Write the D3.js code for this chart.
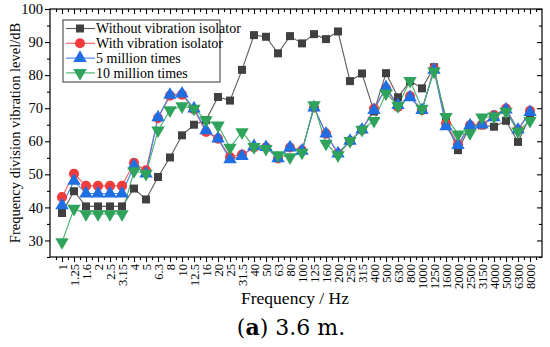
<!DOCTYPE html>
<html>
<head>
<meta charset="utf-8">
<script src="https://cdn.jsdelivr.net/npm/d3@7"></script>
<style>
  body { margin: 0; background: #fff; }
  svg { display: block; }
  svg text { font-family: 'Liberation Serif', 'Times New Roman', serif; fill: #000; }
</style>
</head>
<body>
<div id="chart"></div>
<script>
const freqs = ['1', '1.25', '1.6', '2', '2.5', '3.15', '4', '5', '6.3', '8', '10', '12.5', '16', '20', '25',
  '31.5', '40', '50', '63', '80', '100', '125', '160', '200', '250', '315', '400', '500', '630', '800',
  '1000', '1250', '1600', '2000', '2500', '3150', '4000', '5000', '6300', '8000'];

const withoutIsolator = [38.3, 44.9, 40.3, 40.3, 40.3, 40.3, 45.7, 42.4, 49.2, 55.1, 61.8, 65.0, 66.4, 73.4, 72.3,
  81.6, 92.1, 91.6, 86.6, 91.8, 89.6, 92.4, 90.9, 93.2, 78.2, 80.5, 69.0, 80.6, 73.3, 78.2,
  76.0, 82.4, 66.0, 57.3, 64.5, 64.8, 64.4, 66.2, 59.8, 67.6];
const withIsolator = [43.1, 50.2, 46.5, 46.5, 46.5, 46.5, 53.5, 51.2, 67.0, 73.8, 74.1, 69.6, 62.8, 60.8, 55.2,
  56.0, 58.1, 58.2, 54.8, 58.1, 57.3, 70.2, 62.3, 56.3, 60.1, 63.5, 69.9, 76.0, 70.4, 73.7,
  69.4, 82.0, 65.4, 59.1, 64.8, 65.0, 67.9, 69.9, 63.5, 69.2];
const fiveMillion = [40.6, 48.0, 44.2, 44.2, 44.2, 44.2, 52.6, 50.2, 67.2, 74.0, 74.4, 69.9, 63.3, 60.8, 54.5,
  55.5, 58.5, 58.2, 54.8, 58.1, 57.1, 70.2, 62.3, 56.3, 60.1, 63.5, 69.4, 76.3, 70.9, 73.3,
  69.4, 81.6, 64.5, 58.8, 64.8, 65.0, 67.2, 69.6, 63.5, 68.8];
const tenMillion = [29.5, 39.6, 38.0, 38.0, 38.0, 38.0, 51.0, 50.2, 63.3, 69.4, 70.6, 69.9, 66.4, 64.8, 58.1,
  62.8, 58.3, 57.7, 55.8, 55.2, 56.6, 70.9, 59.3, 55.8, 60.1, 63.5, 66.2, 74.5, 70.7, 78.3,
  69.9, 81.1, 67.4, 62.1, 62.5, 67.2, 67.5, 69.0, 63.0, 66.2];

const yTicks = [30, 40, 50, 60, 70, 80, 90, 100];

const series = [
  { name: 'Without vibration isolator', values: withoutIsolator, line: '#5a5a5a', fill: '#404040', shape: 'square' },
  { name: 'With vibration isolator', values: withIsolator, line: '#f25a5a', fill: '#f23c3c', shape: 'circle' },
  { name: '5 million times', values: fiveMillion, line: '#3d82e8', fill: '#1f6fe3', shape: 'up' },
  { name: '10 million times', values: tenMillion, line: '#45ad6c', fill: '#2fa35c', shape: 'down' }
];

const W = 550, H = 347;
const m = { left: 50, right: 8, top: 9, bottom: 90 };
const iw = W - m.left - m.right, ih = H - m.top - m.bottom;

const svg = d3.select('#chart').append('svg').attr('width', W).attr('height', H);
const g = svg.append('g').attr('transform', `translate(${m.left},${m.top})`);

const x = d3.scaleLinear().domain([0, freqs.length + 1]).range([0, iw]);
const y = d3.scaleLinear().domain([25, 100]).range([ih, 0]);

// frame
g.append('rect').attr('width', iw).attr('height', ih)
  .attr('fill', 'none').attr('stroke', '#000').attr('stroke-width', 1.2);

// minor ticks (half steps)
const halfSteps = d3.range(1, freqs.length + 1).map((d) => d + 0.5).concat([0.5]);
const idx = d3.range(1, freqs.length + 1);
const yMinor = d3.range(30, 100, 5).filter((v) => v % 10 !== 0).concat([25]);

// bottom axis
const xAxis = g.append('g').attr('transform', `translate(0,${ih})`)
  .call(d3.axisBottom(x).tickValues(idx).tickFormat((d) => freqs[d - 1]).tickSize(5).tickSizeOuter(0));
xAxis.select('.domain').remove();
xAxis.selectAll('text')
  .attr('transform', 'rotate(-90)')
  .attr('text-anchor', 'end')
  .attr('x', -7).attr('y', 0).attr('dy', '0.35em')
  .style('font-size', '12.5px');
g.append('g').attr('transform', `translate(0,${ih})`)
  .call(d3.axisBottom(x).tickValues(halfSteps).tickFormat('').tickSize(3).tickSizeOuter(0))
  .select('.domain').remove();

// top axis, inward ticks
const top1 = g.append('g').call(d3.axisTop(x).tickValues(idx).tickFormat('').tickSize(-5).tickSizeOuter(0));
top1.select('.domain').remove();
const top2 = g.append('g').call(d3.axisTop(x).tickValues(halfSteps).tickFormat('').tickSize(-3).tickSizeOuter(0));
top2.select('.domain').remove();

// left axis
const yAxis = g.append('g').call(d3.axisLeft(y).tickValues(yTicks).tickSize(5).tickSizeOuter(0));
yAxis.select('.domain').remove();
yAxis.selectAll('text').style('font-size', '14.5px').attr('x', -7);
g.append('g').call(d3.axisLeft(y).tickValues(yMinor).tickFormat('').tickSize(3).tickSizeOuter(0))
  .select('.domain').remove();

// right axis, inward ticks
const r1 = g.append('g').attr('transform', `translate(${iw},0)`)
  .call(d3.axisRight(y).tickValues(yTicks).tickFormat('').tickSize(-5).tickSizeOuter(0));
r1.select('.domain').remove();
const r2 = g.append('g').attr('transform', `translate(${iw},0)`)
  .call(d3.axisRight(y).tickValues(yMinor).tickFormat('').tickSize(-3).tickSizeOuter(0));
r2.select('.domain').remove();

g.selectAll('.tick line').attr('stroke', '#000').attr('stroke-width', 1.1);

const symbols = {
  square: d3.symbol().type(d3.symbolSquare).size(64),
  circle: d3.symbol().type(d3.symbolCircle).size(80),
  up: d3.symbol().type(d3.symbolTriangle).size(78),
  down: d3.symbol().type(d3.symbolTriangle).size(78)
};
const rot = (s) => (s === 'down' ? ' rotate(180)' : '');

const line = d3.line().x((d, i) => x(i + 1)).y((d) => y(d));

series.forEach((s) => {
  g.append('path').datum(s.values)
    .attr('d', line).attr('fill', 'none')
    .attr('stroke', s.line).attr('stroke-width', 1.1);
});
series.forEach((s) => {
  g.selectAll(null).data(s.values).enter().append('path')
    .attr('d', symbols[s.shape])
    .attr('transform', (d, i) => `translate(${x(i + 1)},${y(d)})${rot(s.shape)}`)
    .attr('fill', s.fill);
});

// legend
const lg = g.append('g').attr('transform', 'translate(13,11)');
lg.append('rect').attr('width', 157).attr('height', 62)
  .attr('fill', '#fff').attr('stroke', '#555').attr('stroke-width', 1.2);
series.forEach((s, i) => {
  const row = lg.append('g').attr('transform', `translate(0,${8.5 + i * 14.8})`);
  row.append('line').attr('x1', 3).attr('x2', 32).attr('stroke', s.line).attr('stroke-width', 1.1);
  row.append('path').attr('d', symbols[s.shape]).attr('transform', `translate(17,0)${rot(s.shape)}`).attr('fill', s.fill);
  row.append('text').attr('x', 33).attr('dy', '0.35em')
    .style('font-size', '14px').text(s.name);
});

// axis titles
svg.append('text').attr('x', 295).attr('y', 304)
  .attr('text-anchor', 'middle').style('font-size', '17.5px').text('Frequency / Hz');
svg.append('text')
  .attr('transform', `translate(20,${m.top + ih / 2}) rotate(-90)`)
  .attr('text-anchor', 'middle').style('font-size', '14.5px')
  .text('Frequency division vibration level/dB');

// caption
const cap = svg.append('text').attr('x', 291).attr('y', 335).attr('text-anchor', 'middle')
  .style('font-size', '22px').style('font-family', "'DejaVu Serif', serif");
cap.append('tspan').text('(');
cap.append('tspan').attr('font-weight', 'bold').text('a');
cap.append('tspan').text(') 3.6 m.');
</script>
</body>
</html>
